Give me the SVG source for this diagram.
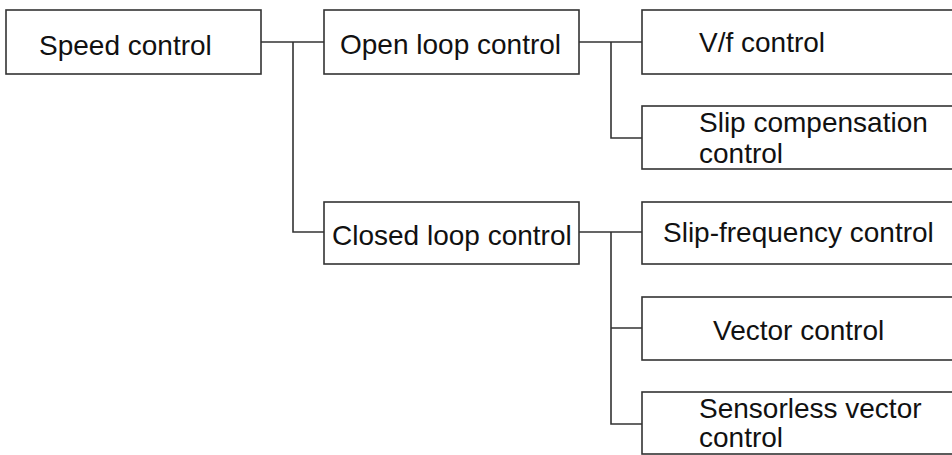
<svg xmlns="http://www.w3.org/2000/svg" width="952" height="455" viewBox="0 0 952 455">
<style>
.box{fill:#fff;stroke:#333;stroke-width:1.6}
.lbl{font-family:"Liberation Sans",Arial,sans-serif;font-size:28px;fill:#111}
.con{fill:none;stroke:#333;stroke-width:1.6}
</style>
<rect width="952" height="455" fill="#fff"/>
<g id="connectors">
<path class="con" d="M261 42H324M293 42V232H324"/>
<path class="con" d="M579 42H642M611 42V138H642"/>
<path class="con" d="M579 232H642M611 232V424H642M611 328H642"/>
</g>
<g id="speed"><rect class="box" x="6" y="10" width="255" height="64"/><text class="lbl" x="39" y="55">Speed control</text></g>
<g id="open"><rect class="box" x="324" y="10" width="255" height="64"/><text class="lbl" x="340" y="54">Open loop control</text></g>
<g id="closed"><rect class="box" x="324" y="202" width="255" height="62"/><text class="lbl" x="332" y="245">Closed loop control</text></g>
<g id="vf"><rect class="box" x="642" y="10" width="320" height="64"/><text class="lbl" x="699" y="52">V/f control</text></g>
<g id="slipcomp"><rect class="box" x="642" y="106" width="320" height="63"/><text class="lbl" x="699" y="132">Slip compensation</text><text class="lbl" x="699" y="163">control</text></g>
<g id="slipfreq"><rect class="box" x="642" y="202" width="320" height="62"/><text class="lbl" x="663" y="242">Slip-frequency control</text></g>
<g id="vector"><rect class="box" x="642" y="297" width="320" height="63"/><text class="lbl" x="713" y="340">Vector control</text></g>
<g id="sensorless"><rect class="box" x="642" y="392" width="320" height="62"/><text class="lbl" x="699" y="418">Sensorless vector</text><text class="lbl" x="699" y="447">control</text></g>
</svg>
